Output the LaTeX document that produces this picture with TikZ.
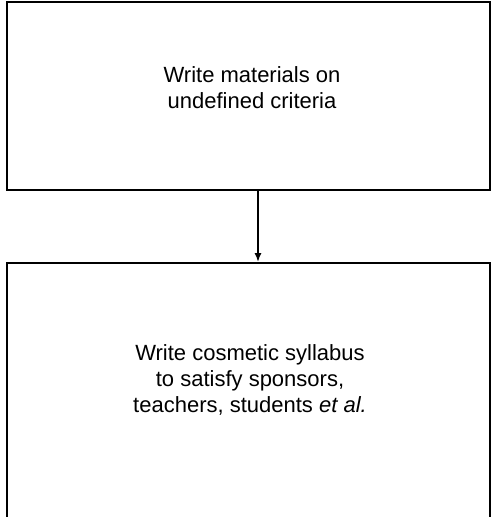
\documentclass[tikz,border=0pt]{standalone}
\usepackage{fontspec}
\setmainfont{Liberation Sans}
\usetikzlibrary{arrows.meta}
\tikzset{
  stagebox/.style={draw=black, line width=1.8pt, rectangle, inner sep=0pt},
  stagetext/.style={align=center, font=\fontsize{22}{26}\selectfont},
  flowarrow/.style={draw=black, line width=1.8pt,
    -{Latex[length=9pt,width=7pt]}}
}
\begin{document}
\begin{tikzpicture}[x=1pt,y=-1pt]
  \useasboundingbox (0,0) rectangle (499,517);
  \clip (0,0) rectangle (499,517);
  % upper stage: writing materials
  \node[stagebox, minimum width=483pt, minimum height=188pt] (materials)
    at (248.5,96) {};
  \node[stagebox, draw=none, stagetext] (mattext) at (252,88)
    {Write materials on\\undefined criteria};
  % lower stage: the syllabus, running past the bottom edge
  \node[stagebox, minimum width=483pt, minimum height=280pt] (syllabus)
    at (248.5,403) {};
  \node[stagebox, draw=none, stagetext] (syltext) at (250,380)
    {Write cosmetic syllabus\\to satisfy sponsors,\\teachers, students \textit{et al.}};
  \draw[flowarrow] (258,0 |- materials.south) coordinate (from) -- (from |- syllabus.north);
\end{tikzpicture}
\end{document}
